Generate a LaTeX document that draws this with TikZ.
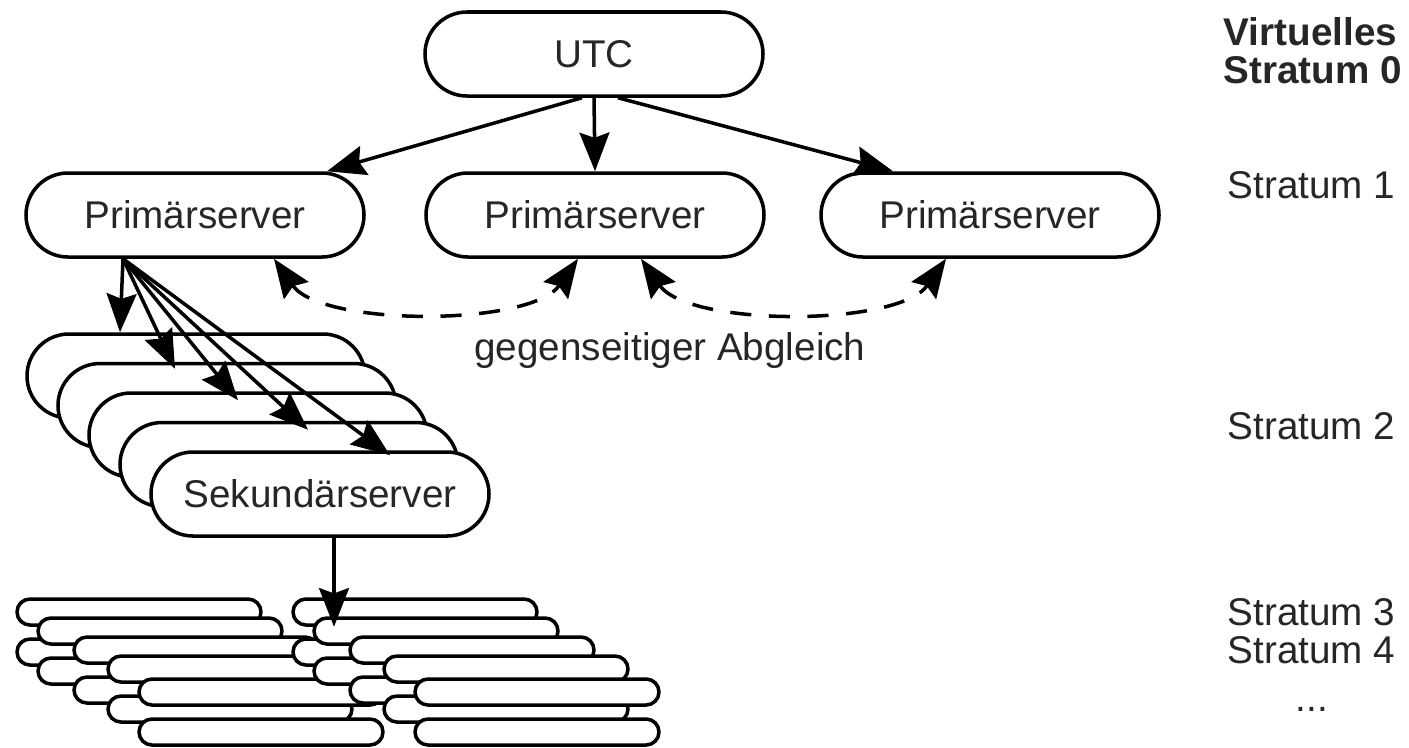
\documentclass[tikz,border=0pt]{standalone}
\usepackage{fontspec}
\setmainfont{Liberation Sans}
\usetikzlibrary{arrows.meta}

\tikzset{
  pill/.style={draw,line width=1pt,fill=white,rounded corners=0.42cm,minimum width=3.38cm,minimum height=0.84cm,inner sep=0pt,text=black!85},
  minipill/.style={draw,line width=1pt,fill=white,rounded corners=0.13cm,minimum width=2.44cm,minimum height=0.26cm,inner sep=0pt},
  arr/.style={-{Stealth[length=11pt,width=8.5pt,inset=1.5pt]},line width=1pt},
  sync/.style={{Stealth[length=11pt,width=8.5pt,inset=1.5pt]}-{Stealth[length=11pt,width=8.5pt,inset=1.5pt]},line width=1pt,dash pattern=on 6pt off 5pt},
  lvl/.style={anchor=base west,inner sep=0pt,text=black!85}
}

\begin{document}
\begin{tikzpicture}[every node/.style={font=\fontsize{11}{11}\selectfont}]
\useasboundingbox (0,0) rectangle (14.09,-7.47);

% Stratum 0 und 1
\node[pill] (utc) at (5.94,-0.54) {UTC};
\node[pill] (pl) at (1.95,-2.15) {Primärserver};
\node[pill] (pm) at (5.95,-2.15) {Primärserver};
\node[pill] (pr) at (9.90,-2.15) {Primärserver};
\draw[arr] ([xshift=-0.12cm]utc.south) -- ([xshift=1.32cm]pl.north);
\draw[arr] (utc.south) -- (pm.north);
\draw[arr] ([xshift=0.24cm]utc.south) -- ([xshift=-0.97cm]pr.north);
\draw[sync] ([xshift=0.79cm]pl.south) to[out=-55,in=-125,looseness=0.7] ([xshift=-0.17cm]pm.south);
\draw[sync] ([xshift=0.46cm]pm.south) to[out=-55,in=-125,looseness=0.7] ([xshift=-0.44cm]pr.south);
\node[text=black!85] (sync) at (6.70,-3.50) {gegenseitiger Abgleich};

% Stratum 2
\foreach \k in {1,...,4}
  \node[pill] (s\k) at ({1.96+0.31*(\k-1)},{-3.76-0.295*(\k-1)}) {};
\node[pill] (sek) at (3.20,-4.94) {Sekundärserver};
\coordinate (org) at ([xshift=-0.72cm]pl.south);
\foreach \t/\dx/\dy in {s1/-0.76/0, s2/-0.52/-0.07, s3/-0.20/-0.09, s4/0.19/-0.09, sek/0.70/-0.05}
  \draw[arr] (org) -- ([xshift=\dx cm,yshift=\dy cm]\t.north);

% Stratum 3, 4, ...
\foreach \g/\gx in {l/0, r/2.76} {
  \foreach \k/\x/\y in {1/1.39/6.12, 2/1.60/6.31, 3/1.96/6.50, 4/2.30/6.69, 5/2.61/6.92}
    \node[minipill] (\g b\k) at (\x+\gx,-\y-0.40) {};
  \foreach \k/\x/\y in {1/1.39/6.12, 2/1.60/6.31, 3/1.96/6.50, 4/2.30/6.69, 5/2.61/6.92}
    \node[minipill] (\g a\k) at (\x+\gx,-\y) {};
}
\draw[arr] ([xshift=0.14cm]sek.south) -- ([xshift=0.14cm]sek.south |- ra1.south);

% Ebenen
\node[lvl,font=\fontsize{11}{11}\selectfont\bfseries] (v0) at (12.23,-0.45) {Virtuelles};
\node[lvl,font=\fontsize{11}{11}\selectfont\bfseries] (st0) at (12.23,-0.83) {Stratum 0};
\node[lvl] (st1) at (12.27,-1.98) {Stratum 1};
\node[lvl] (st2) at (12.27,-4.39) {Stratum 2};
\node[lvl] (st3) at (12.27,-6.25) {Stratum 3};
\node[lvl] (st4) at (12.27,-6.63) {Stratum 4};
\node[anchor=base,inner sep=0pt,text=black!85] (stn) at (13.12,-7.11) {...};
\end{tikzpicture}
\end{document}
